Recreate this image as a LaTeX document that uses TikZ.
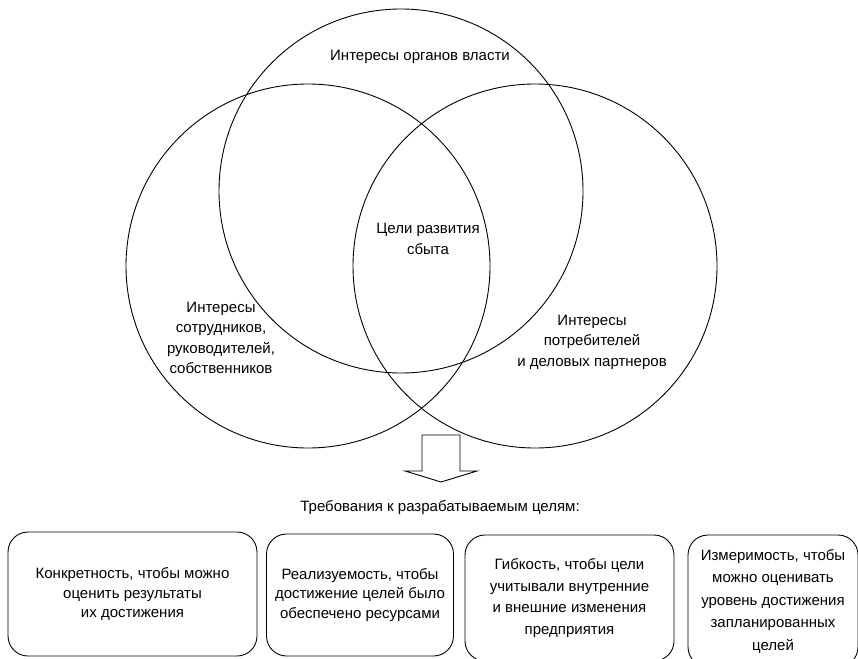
\documentclass[tikz,border=0pt]{standalone}
\usepackage{fontspec}
\setmainfont{Liberation Sans}
\begin{document}
\begin{tikzpicture}[x=1pt,y=-1pt,
  ring/.style={draw=black,line width=0.9pt,circle,minimum size=364pt,inner sep=0pt},
  lbl/.style={align=center,inner sep=0pt,font=\fontsize{15}{20.5}\selectfont},
  reqbox/.style={draw=black,line width=0.9pt,rounded corners=20pt,inner sep=0pt,align=center},
  blockarrow/.style={draw=black,line width=0.9pt,fill=white}]
\clip (0,0) rectangle (858,658);
\fill[white] (0,0) rectangle (858,658);

% three overlapping interest circles
\node[ring] (top)   at (401,191) {};
\node[ring] (left)  at (308,266) {};
\node[ring] (right) at (535,266) {};

% circle labels
\node[lbl] (topl)   at (420,57)  {Интересы органов власти};
\node[lbl] (centre) at (428,239) {Цели развития\\сбыта};
\node[lbl] (leftl)  at (221,338) {Интересы\\сотрудников,\\руководителей,\\собственников};
\node[lbl] (rightl) at (592,342) {Интересы\\потребителей\\и деловых партнеров};

% block arrow pointing down to the requirements
\coordinate (arr) at (441,435);
\draw[blockarrow] (arr) ++(-19,0) -- ++(38,0) -- ++(0,36) -- ++(17,0)
  -- (441,482) -- (405,471) -- ++(17,0) -- cycle;

\node[lbl] (req) at (440,508) {Требования к разрабатываемым целям:};

% requirement boxes
\node[reqbox,minimum width=249pt,minimum height=124pt,font=\fontsize{15}{19.2}\selectfont]
  (b1) at (132.5,594) {Конкретность, чтобы можно\\оценить результаты\\их достижения};
\node[reqbox,minimum width=187pt,minimum height=122pt,font=\fontsize{15}{19.2}\selectfont]
  (b2) at (360,595) {Реализуемость, чтобы\\достижение целей было\\обеспечено ресурсами};
\node[reqbox,minimum width=209pt,minimum height=126pt,font=\fontsize{15}{21.7}\selectfont]
  (b3) at (569.5,598) {Гибкость, чтобы цели\\учитывали внутренние\\и внешние изменения\\предприятия};
\node[reqbox,minimum width=170pt,minimum height=132pt,font=\fontsize{15}{22.5}\selectfont]
  (b4) at (773,601) {Измеримость, чтобы\\можно оценивать\\уровень достижения\\запланированных\\целей};
\end{tikzpicture}
\end{document}
